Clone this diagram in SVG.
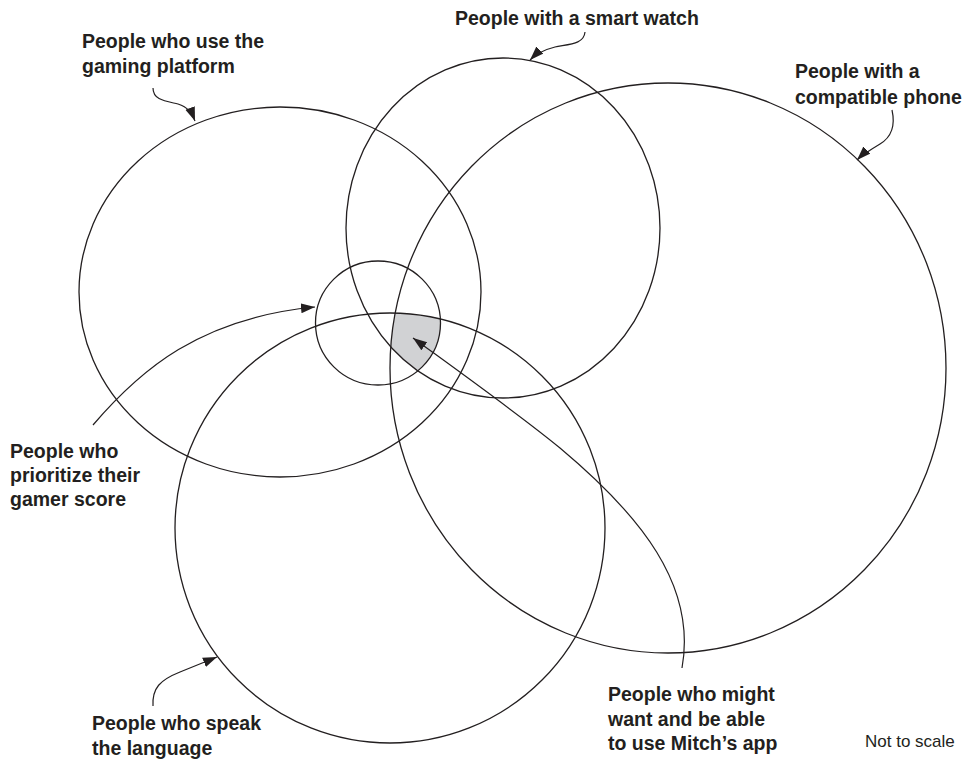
<svg xmlns="http://www.w3.org/2000/svg" width="967" height="762" viewBox="0 0 967 762">
<style>
.set{fill:none;stroke:#231f20;stroke-width:1.3}
.lbl{font-family:"Liberation Sans",Arial,sans-serif;font-weight:bold;font-size:19.5px;fill:#231f20}
.note{font-family:"Liberation Sans",Arial,sans-serif;font-size:17px;fill:#231f20}
.con{fill:none;stroke:#231f20;stroke-width:1.2}
</style>
<defs>
<marker id="ah" markerUnits="userSpaceOnUse" markerWidth="16" markerHeight="12" refX="14" refY="5" orient="auto">
<path d="M0,0 L14,5 L0,10 Z" fill="#231f20"/>
</marker>
<clipPath id="cSmall"><ellipse cx="378" cy="323" rx="62.5" ry="62"/></clipPath>
<clipPath id="cWatch"><ellipse cx="503" cy="228" rx="157" ry="170"/></clipPath>
<clipPath id="cPhone"><ellipse cx="668" cy="368" rx="278" ry="285"/></clipPath>
<clipPath id="cLang"><ellipse cx="390" cy="528" rx="215" ry="215"/></clipPath>
<clipPath id="cGame"><ellipse cx="280" cy="292" rx="201" ry="185"/></clipPath>
</defs>
<rect width="967" height="762" fill="#ffffff"/>
<g id="shaded" clip-path="url(#cSmall)"><g clip-path="url(#cWatch)"><g clip-path="url(#cPhone)"><g clip-path="url(#cLang)"><g clip-path="url(#cGame)">
<rect x="300" y="250" width="160" height="150" fill="#d1d2d4"/>
</g></g></g></g></g>
<g id="gaming"><ellipse class="set" cx="280" cy="292" rx="201" ry="185"/>
<text class="lbl" x="82" y="48">People who use the</text><text class="lbl" x="82" y="73">gaming platform</text></g>
<g id="watch"><ellipse class="set" cx="503" cy="228" rx="157" ry="170"/>
<text class="lbl" x="455" y="25">People with a smart watch</text></g>
<g id="phone"><ellipse class="set" cx="668" cy="368" rx="278" ry="285"/>
<text class="lbl" x="795" y="78">People with a</text><text class="lbl" x="795" y="104">compatible phone</text></g>
<g id="gamer"><ellipse class="set" cx="378" cy="323" rx="62.5" ry="62"/>
<text class="lbl" x="10" y="458">People who</text><text class="lbl" x="10" y="482">prioritize their</text><text class="lbl" x="10" y="506">gamer score</text></g>
<g id="language"><ellipse class="set" cx="390" cy="528" rx="215" ry="215"/>
<text class="lbl" x="92" y="730">People who speak</text><text class="lbl" x="92" y="755">the language</text></g>
<g id="target">
<text class="lbl" x="608" y="701">People who might</text><text class="lbl" x="608" y="726">want and be able</text><text class="lbl" x="608" y="750">to use Mitch’s app</text></g>
<text class="note" x="865" y="747">Not to scale</text>
<g id="connectors">
<path class="con" marker-end="url(#ah)" d="M153,88 C153,100 165,101 178,104 C188,107 192,113 195,121"/>
<path class="con" marker-end="url(#ah)" d="M585,32 C584,44 570,44 555,47 C543,50 535,55 530,60"/>
<path class="con" marker-end="url(#ah)" d="M892,110 C896,128 890,138 880,144 C870,150 862,155 857,160"/>
<path class="con" marker-end="url(#ah)" d="M93,425 C140,370 200,318 315,307"/>
<path class="con" marker-end="url(#ah)" d="M682,668 C697,585 640,515 560,448 C520,415 450,365 413,338"/>
<path class="con" marker-end="url(#ah)" d="M153,706 C152,688 160,680 180,672 L217,657"/>
</g>
</svg>
